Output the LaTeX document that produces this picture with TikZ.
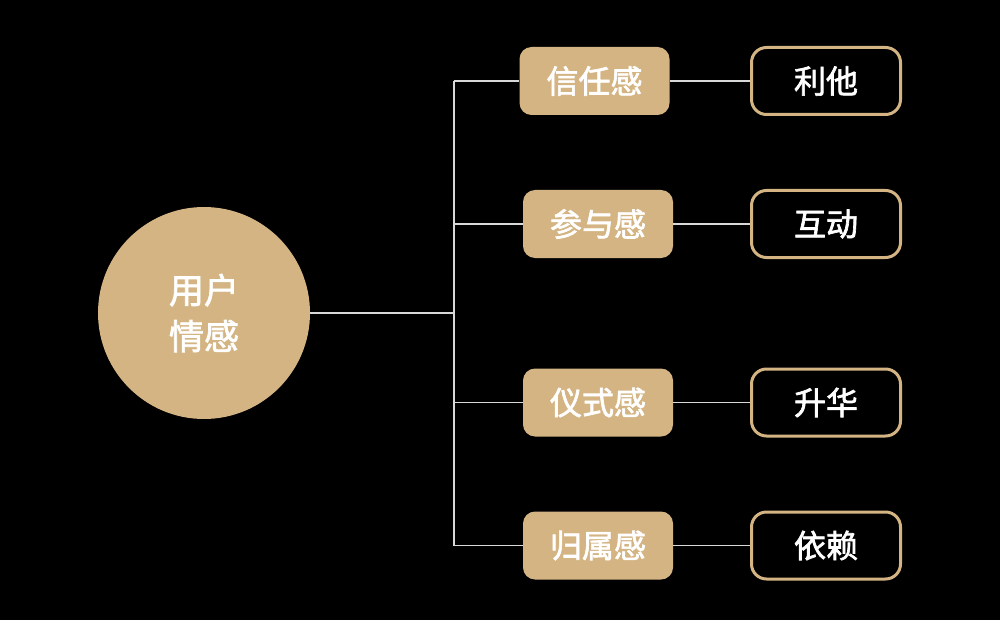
\documentclass[tikz,border=0pt]{standalone}
\usepackage{fontspec}
\newfontfamily\cjk[FakeBold=2]{Noto Sans CJK SC}
\definecolor{gold}{HTML}{D4B483}
\definecolor{wire}{HTML}{D8D8D8}

\begin{document}
\begin{tikzpicture}[x=0.5pt,y=-0.5pt,
    hub/.style={circle,fill=gold,minimum size=106pt,inner sep=0pt,text=white,align=center,
      font=\cjk\fontsize{17.5}{23}\selectfont},
    sensebox/.style={rounded corners=6pt,fill=gold,minimum width=75pt,minimum height=34pt,inner sep=0pt,
      text=white,font=\cjk\fontsize{16}{18}\selectfont},
    valuebox/.style={rounded corners=7.5pt,draw=gold,line width=1.5pt,fill=black,minimum width=74.5pt,
      minimum height=33.5pt,inner sep=0pt,text=white,font=\cjk\fontsize{16}{18}\selectfont},
    wireline/.style={draw=wire,line width=0.6pt}]
  \path[fill=black] (0,0) rectangle (1000,620);

  % Center
  \node[hub] (user) at (204,313) {用户\\情感};
  \coordinate (fork) at (454,313);

  % Column 1
  \node[sensebox] (trust) at (594.5,81) {信任感};
  \node[sensebox] (join) at (598,224) {参与感};
  \node[sensebox] (ritual) at (598,402.5) {仪式感};
  \node[sensebox] (belong) at (598,545.5) {归属感};

  % Column 2
  \node[valuebox] (altru) at (826,81) {利他};
  \node[valuebox] (interact) at (826,224) {互动};
  \node[valuebox] (sublim) at (826,402.5) {升华};
  \node[valuebox] (rely) at (826,545.5) {依赖};

  % Wires
  \path[wireline] (user.east) -- (fork);
  \path[wireline] (fork |- trust.west) -- (fork |- belong.west);
  \foreach \a/\b in {trust/altru,join/interact,ritual/sublim,belong/rely} {
    \path[wireline] (fork |- \a.west) -- (\a.west);
    \path[wireline] (\a.east) -- (\b.west);
  }
\end{tikzpicture}
\end{document}
